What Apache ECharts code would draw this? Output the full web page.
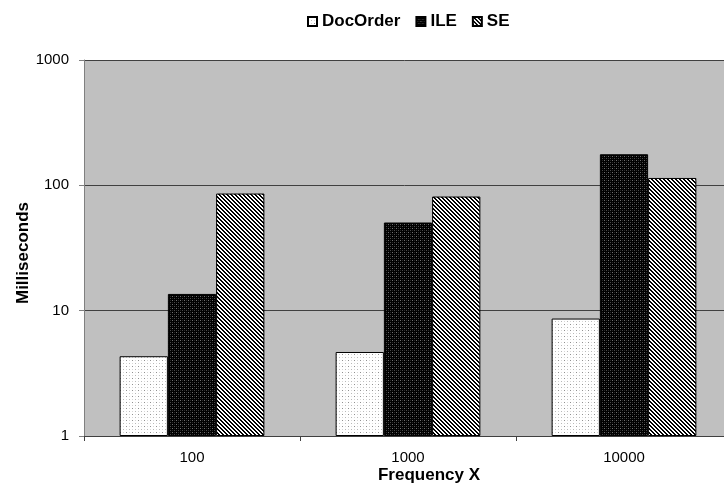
<!DOCTYPE html>
<html><head><meta charset="utf-8">
<script src="https://cdn.jsdelivr.net/npm/echarts@6/dist/echarts.min.js"></script>
<style>html,body{margin:0;padding:0;background:#fff}#c{width:724px;height:487px}</style>
</head><body><div id="c"></div>
<script>
const categories = ['100', '1000', '10000'];
const docOrder = [4.33, 4.68, 8.65];
const ile = [13.6, 50.5, 177];
const se = [86, 81.4, 114.5];
const yTicks = [1, 10, 100, 1000];

function pattern(size, bg, pts) {
  const c = document.createElement('canvas');
  c.width = size; c.height = size;
  const g = c.getContext('2d');
  g.fillStyle = bg; g.fillRect(0, 0, size, size);
  pts.forEach(p => { g.fillStyle = p[2]; g.fillRect(p[0], p[1], 1, 1); });
  return c;
}
const docPat = pattern(6, '#ffffff', [[0,0,'#909090'],[3,3,'#b8b8b8'],[0,3,'#d8d8d8'],[3,0,'#d8d8d8']]);
const ilePat = pattern(4, '#000000', [[0,0,'#707070'],[2,2,'#4a4a4a'],[2,0,'#262626'],[0,2,'#262626']]);
const sePts = [];
for (let y = 0; y < 4; y++) for (let x = 0; x < 4; x++) {
  const d = ((x - y) % 4 + 4) % 4;
  if (d === 0 || d === 1) sePts.push([x, y, '#000000']);
}
const sePat = pattern(4, '#ffffff', sePts);

const font = 'Liberation Sans, Arial, sans-serif';
const chart = echarts.init(document.getElementById('c'), null, {renderer: 'canvas'});
function bar(name, data, pat) {
  return {
    name, type: 'bar', data,
    barGap: '0%', barCategoryGap: '33%',
    itemStyle: {color: {image: pat, repeat: 'repeat'}, borderColor: '#000', borderWidth: 1},
    animation: false
  };
}
chart.setOption({
  animation: false,
  backgroundColor: '#ffffff',
  textStyle: {fontFamily: font},
  legend: {
    left: 302, top: 8,
    itemWidth: 9, itemHeight: 9, itemGap: 15,
    icon: 'rect',
    textStyle: {fontFamily: font, fontSize: 17, fontWeight: 'bold', color: '#000'},
    data: ['DocOrder', 'ILE', 'SE']
  },
  grid: {left: 84, top: 60, width: 648, height: 376, show: true, backgroundColor: '#C0C0C0', borderWidth: 0,
    containLabel: false, outerBoundsMode: 'none'},
  xAxis: {
    type: 'category', data: categories,
    name: 'Frequency X', nameLocation: 'middle', nameGap: 31, nameMoveOverlap: false,
    nameTextStyle: {fontFamily: font, fontSize: 17, fontWeight: 'bold', color: '#000', padding: [0, 0, 0, 42]},
    axisLine: {lineStyle: {color: '#404040', width: 1}},
    axisTick: {show: true, length: 5, lineStyle: {color: '#404040'}},
    axisLabel: {fontFamily: font, fontSize: 15, color: '#000', margin: 14}
  },
  yAxis: {
    type: 'log', logBase: 10, min: 1, max: 1000,
    name: 'Milliseconds', nameLocation: 'middle', nameGap: 52, nameMoveOverlap: false,
    nameTextStyle: {fontFamily: font, fontSize: 17, fontWeight: 'bold', color: '#000', padding: [0, 10, 0, 0]},
    axisLine: {show: true, lineStyle: {color: '#808080', width: 1}},
    axisTick: {show: true, length: 5, lineStyle: {color: '#808080'}},
    axisLabel: {fontFamily: font, fontSize: 15, color: '#000', margin: 15,
      formatter: v => yTicks.indexOf(Math.round(v)) >= 0 ? String(Math.round(v)) : ''},
    splitLine: {show: true, lineStyle: {color: '#404040', width: 1}},
    minorTick: {show: false}
  },
  series: [bar('DocOrder', docOrder, docPat), bar('ILE', ile, ilePat), bar('SE', se, sePat)]
});
</script></body></html>
